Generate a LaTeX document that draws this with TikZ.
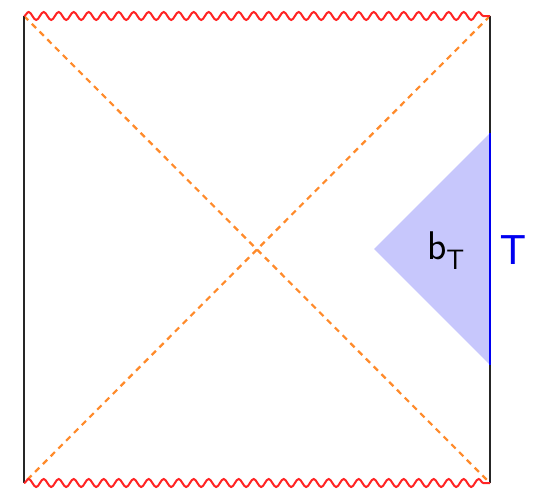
\documentclass[tikz,border=0pt]{standalone}
\usepackage{fontspec}
\setmainfont{Liberation Sans}
\usepackage{unicode-math}
\usetikzlibrary{decorations.pathmorphing}
\definecolor{wavered}{HTML}{FF2424}
\definecolor{dashorange}{HTML}{FF8A2A}
\definecolor{tblue}{HTML}{0000F0}
\tikzset{
  edge/.style={draw=black!85, line width=1.4pt},
  singular/.style={draw=wavered, line width=2pt, decorate,
    decoration={snake, segment length=15pt, amplitude=4pt}},
  horizon/.style={draw=dashorange, line width=2.2pt, dash pattern=on 6pt off 5pt},
  wedge/.style={fill=tblue, fill opacity=0.22, draw=none},
  bound/.style={draw=tblue, line width=2.4pt},
  lbl/.style={font=\fontsize{40}{44}\selectfont}
}
\begin{document}
\begin{tikzpicture}[x=1pt,y=-1pt]
\useasboundingbox (0,0) rectangle (533,490);
\coordinate (tl) at (24,16);
\coordinate (tr) at (490,16);
\coordinate (br) at (490,483);
\coordinate (bl) at (24,483);
\coordinate (wt) at (490,133);
\coordinate (wb) at (490,365);
\coordinate (wp) at (374,249);
\path[wedge] (wt) -- (wb) -- (wp) -- cycle;
\draw[horizon] (tl) -- (br);
\draw[horizon] (tr) -- (bl);
\draw[edge] (tl) -- (bl);
\draw[edge] (tr) -- (br);
\draw[singular] (tl) -- (tr);
\draw[singular] (bl) -- (br);
\draw[bound] (wt) -- (wb);
\node[lbl, anchor=center] (bT) at (446,251) {$\mathsf{b}_{\mathsf{T}}$};
\node[lbl, text=tblue, font=\fontsize{42}{46}\selectfont] (T) at (513,250) {T};
\end{tikzpicture}
\end{document}
